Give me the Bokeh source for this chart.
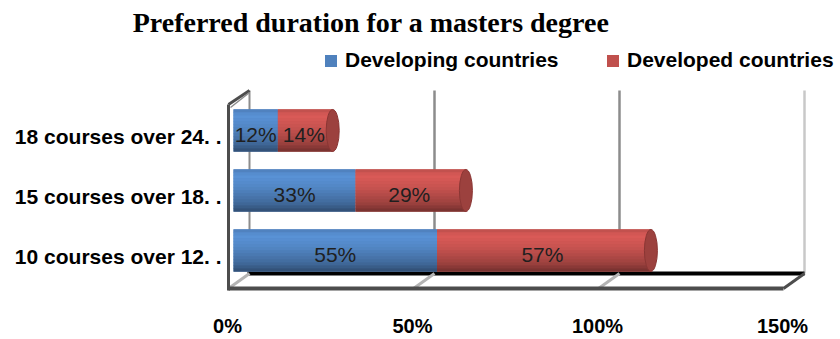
import numpy as np
from bokeh.plotting import figure
from bokeh.models import Range1d, ColumnDataSource, Legend, LegendItem
from bokeh.core.properties import value
from bokeh.embed import file_html
from bokeh.resources import INLINE

# ---------------- data ----------------
title_text = "Preferred duration for a masters degree"
categories = ["10 courses over 12. .", "15 courses over 18. .", "18 courses over 24. ."]  # bottom -> top
developing = [55, 33, 12]
developed = [57, 29, 14]
series_names = ["Developing countries", "Developed countries"]
tick_values = [0, 50, 100, 150]
tick_labels = ["0%", "50%", "100%", "150%"]

# ---------------- layout (pixel geometry of the picture) ----------------
W, H = 840, 339
PX0 = 233.0      # screen x of 0 %
PXPCT = 3.70     # pixels per percent
ROW0 = 250.0     # screen y of first category
ROWPX = 60.0     # pixels between categories

def xd(px):
    return (px - PX0) / PXPCT

def yd(py):
    return (ROW0 - py) / ROWPX

def dx(px):
    return px / PXPCT

def dy(py):
    return py / ROWPX

p = figure(width=W, height=H, output_backend="svg", toolbar_location=None,
           x_range=Range1d(xd(0), xd(W)), y_range=Range1d(yd(H), yd(0)),
           min_border=0, x_axis_location=None, y_axis_location=None,
           outline_line_color=None, background_fill_color="white",
           border_fill_color="white")
p.xgrid.grid_line_color = None
p.ygrid.grid_line_color = None

XMAX = tick_values[-1]
front_off = dx(-5)
back_off = dx(16)
y_ff = yd(288)   # floor front
y_fb = yd(273)   # floor back
y_tb = yd(90)    # wall top back
y_tf = yd(104)   # wall top front

# back wall gridlines
grid_x = [t + back_off for t in tick_values[1:]]
grid_col = ["#8c8c8c" if t < XMAX else "#c8c8c8" for t in tick_values[1:]]
p.segment(x0=grid_x, y0=[y_fb] * len(grid_x), x1=grid_x, y1=[y_tb] * len(grid_x),
          line_color=grid_col, line_width=2.5)
p.segment(x0=[back_off], y0=[y_fb], x1=[back_off], y1=[y_tb], line_color="#8c8c8c", line_width=2)

# floor
p.segment(x0=[back_off - dx(2)], y0=[y_fb], x1=[XMAX + back_off], y1=[y_fb], line_color="black", line_width=4)
fl_x0 = [t + front_off for t in tick_values[:-1]]
fl_x1 = [t + back_off for t in tick_values[:-1]]
p.segment(x0=fl_x0, y0=[y_ff] * len(fl_x0), x1=fl_x1, y1=[y_fb] * len(fl_x0),
          line_color="#b4b4b4", line_width=3)
p.segment(x0=[front_off], y0=[y_ff], x1=[XMAX + front_off], y1=[y_ff], line_color="#4d4d4d", line_width=4)
p.segment(x0=[XMAX + front_off], y0=[y_ff], x1=[XMAX + back_off], y1=[y_fb], line_color="#4d4d4d", line_width=3)

# left wall
p.segment(x0=[front_off], y0=[yd(290)], x1=[front_off], y1=[y_tf], line_color="#4d4d4d", line_width=3)
p.segment(x0=[front_off], y0=[y_tf], x1=[back_off], y1=[y_tb], line_color="#4d4d4d", line_width=3)
p.segment(x0=[front_off + dx(2)], y0=[y_tf - dy(3)], x1=[back_off], y1=[y_tb - dy(2)],
          line_color="#8c8c8c", line_width=1.5)

# ---------------- bars (3D cylinder look) ----------------
idx = np.arange(len(categories), dtype=float)
dev_i = np.array(developing, dtype=float)
dev_e = np.array(developed, dtype=float)
total = dev_i + dev_e
bar_h = dy(42)
cap_shift = dx(3)

bases = ["#4F81BD", "#C0504D"]
lefts = [np.zeros_like(dev_i), dev_i]
rights = [dev_i, total + cap_shift]

NSTRIP = 14
tk = (np.arange(NSTRIP) + 0.5) / NSTRIP
fac = np.interp(tk, [0, 0.15, 0.45, 0.8, 1.0], [0.97, 1.14, 1.03, 0.82, 0.6])

def hex_to_rgb(h):
    h = h.lstrip("#")
    return np.array([int(h[i:i + 2], 16) for i in (0, 2, 4)], dtype=float)

def rgb_to_hex(c):
    c = np.clip(np.round(c), 0, 255).astype(int)
    return "#%02x%02x%02x" % tuple(c)

bodies = []
for s in range(2):
    body = p.hbar(y=idx, left=lefts[s], right=rights[s], height=bar_h,
                  fill_color=bases[s], line_color=None)
    bodies.append(body)
    rgb = hex_to_rgb(bases[s])
    ys, ls, rs, cs = [], [], [], []
    for i in range(len(categories)):
        for k in range(NSTRIP):
            ys.append(idx[i] + bar_h / 2 - (k + 0.5) * bar_h / NSTRIP)
            ls.append(lefts[s][i])
            rs.append(rights[s][i])
            cs.append(rgb_to_hex(rgb * fac[k]))
    src = ColumnDataSource(dict(y=ys, left=ls, right=rs, color=cs))
    p.hbar(y="y", left="left", right="right", height=bar_h / NSTRIP * 1.2,
           fill_color="color", line_color=None, source=src)

# end caps of the cylinders
p.ellipse(x=total + cap_shift, y=idx, width=13, height=42,
          width_units="screen", height_units="screen",
          fill_color="#9c413e", line_color="#8a3634", line_width=1)

# segment value labels
lab_x = np.concatenate([dev_i / 2, dev_i + dev_e / 2])
lab_y = np.concatenate([idx, idx]) - dy(4)
lab_t = ["%d%%" % v for v in list(developing) + list(developed)]
p.text(x=lab_x, y=lab_y, text=lab_t, text_font=value("Liberation Sans"),
       text_font_size="21px", text_color="#1f1f1f", text_align="center",
       text_baseline="middle")

# category labels
p.text(x=[xd(221)] * len(categories), y=idx - dy(6), text=categories,
       text_font=value("Liberation Sans"), text_font_style="bold",
       text_font_size="21px", text_color="black", text_align="right",
       text_baseline="middle")

# x tick labels
p.text(x=[t + dx(-6) for t in tick_values], y=[yd(325)] * len(tick_values), text=tick_labels,
       text_font=value("Liberation Sans"), text_font_style="bold",
       text_font_size="20px", text_color="black", text_align="center",
       text_baseline="middle")

# title
p.text(x=[xd(370.5)], y=[yd(22)], text=[title_text],
       text_font=value("Liberation Serif"), text_font_style="bold",
       text_font_size="28px", text_color="black", text_align="center",
       text_baseline="middle")

# legend
legend = Legend(items=[LegendItem(label=series_names[s], renderers=[bodies[s]]) for s in range(2)],
                orientation="horizontal", location=(323, 267),
                glyph_width=15, glyph_height=15, label_standoff=7, label_width=214,
                spacing=46, padding=0, margin=0, border_line_color=None,
                background_fill_alpha=0,
                label_text_font="Liberation Sans", label_text_font_style="bold",
                label_text_font_size="21px", label_text_color="black")
p.add_layout(legend)

open("out.html", "w").write(file_html(p, INLINE))
